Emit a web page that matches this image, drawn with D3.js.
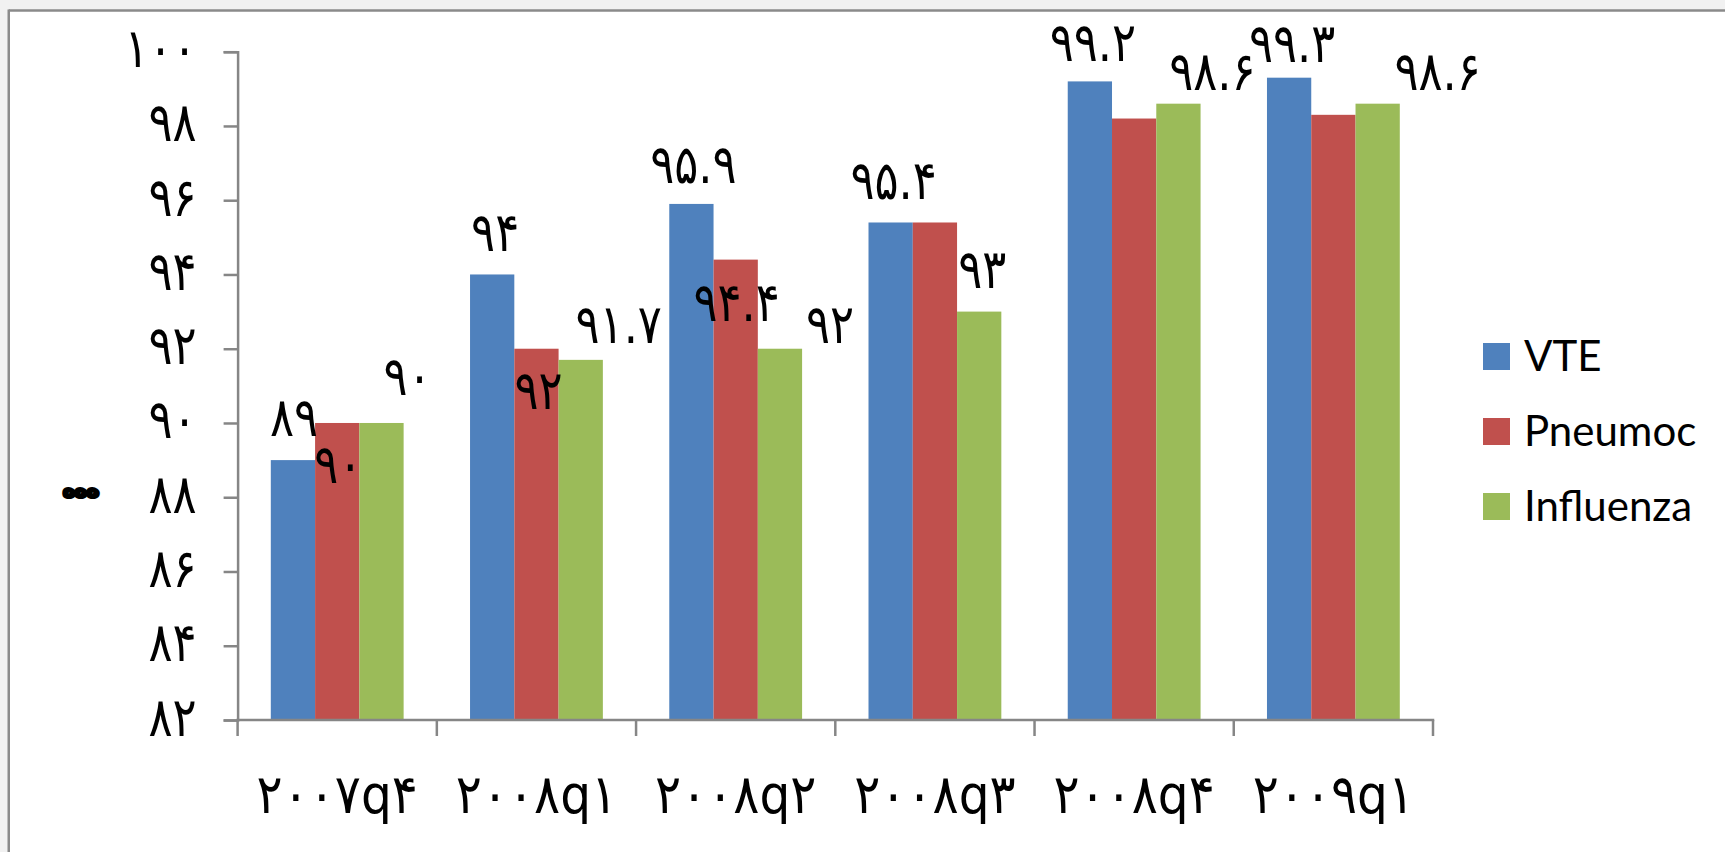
<!DOCTYPE html>
<html>
<head>
<meta charset="utf-8">
<script src="https://cdn.jsdelivr.net/npm/d3@7"></script>
<style>
  html, body { margin: 0; padding: 0; background: #f1f1f1; }
  svg { display: block; }
  .num { font-family: "DejaVu Sans", sans-serif; direction: ltr; }
  .legend text { font-family: Lato, "Open Sans", sans-serif; }
</style>
</head>
<body>
<svg id="chart" width="1725" height="852"></svg>
<script>
// Quarterly compliance rates (%) for three quality measures
const categories = ["۲۰۰۷q۴", "۲۰۰۸q۱", "۲۰۰۸q۲", "۲۰۰۸q۳", "۲۰۰۸q۴", "۲۰۰۹q۱"];
const seriesNames = ["VTE", "Pneumoc", "Influenza"];
const vte       = [89, 94, 95.9, 95.4, 99.2, 99.3];
const pneumoc   = [90, 92, 94.4, 95.4, 98.2, 98.3];
const influenza = [90, 91.7, 92, 93, 98.6, 98.6];
const yTicks = [82, 84, 86, 88, 90, 92, 94, 96, 98, 100];

const colors = ["#4F81BD", "#C0504D", "#9BBB59"];
const numFont = 54;
const numSx = 0.83;   // horizontal squeeze for the Persian-digit numbers
const catSx = 0.9;    // horizontal squeeze for the category labels

// Data-label placement relative to each bar's centre/top (null = no label shown)
const labelNudge = [
  [[1, -24], [3, -23], [2, -21], [3, -23], [3, -20], [3, -16]],
  [[1, 60], [2, 60], [1, 61], null, null, null],
  [[26, -28], [38, -17], [50, -6], [3, -24], [34, -14], [60, -14]]
];

const seriesValues = [vte, pneumoc, influenza];
const fa = s => String(s).replace(/\d/g, d => "۰۱۲۳۴۵۶۷۸۹"[+d]);

const svg = d3.select("#chart");

// chart area: white panel with grey frame on top and left
svg.append("rect").attr("x", 9).attr("y", 10.5).attr("width", 1730).attr("height", 850).attr("fill", "#fff");
svg.append("line").attr("x1", 8.75).attr("x2", 1725).attr("y1", 10.5).attr("y2", 10.5)
  .attr("stroke", "#8a8a8a").attr("stroke-width", 2.5);
svg.append("line").attr("x1", 8.75).attr("x2", 8.75).attr("y1", 9.5).attr("y2", 852)
  .attr("stroke", "#8a8a8a").attr("stroke-width", 2.5);

const plot = { left: 237.6, right: 1433, top: 51.7, bottom: 720 };

const x0 = d3.scaleBand().domain(categories).range([plot.left, plot.right]).paddingInner(0).paddingOuter(0);
const x1 = d3.scaleBand().domain(d3.range(seriesNames.length)).range([0, x0.bandwidth()])
  .paddingInner(0).paddingOuter(0.75);
const y = d3.scaleLinear().domain([82, 100]).range([plot.bottom, plot.top]);

// bars
const rows = [];
seriesValues.forEach((vals, s) => vals.forEach((v, i) => rows.push({ s, i, v })));

svg.append("g").selectAll("rect").data(rows).join("rect")
  .attr("x", d => x0(categories[d.i]) + x1(d.s))
  .attr("y", d => y(d.v))
  .attr("width", x1.bandwidth())
  .attr("height", d => y(82) - y(d.v))
  .attr("fill", d => colors[d.s]);

// y axis
const yTickSize = 14, yTickPad = 27;
const yAxis = svg.append("g").attr("transform", `translate(${plot.left},0)`)
  .call(d3.axisLeft(y).tickValues(yTicks).tickSize(yTickSize).tickPadding(yTickPad).tickFormat(fa));
yAxis.select(".domain").attr("stroke", "#868686").attr("stroke-width", 2.5);
yAxis.selectAll(".tick line").attr("stroke", "#868686").attr("stroke-width", 2.5);
yAxis.selectAll(".tick text").attr("class", "num").attr("font-size", numFont).attr("fill", "#000")
  .attr("x", -(yTickSize + yTickPad) / numSx)
  .attr("transform", `scale(${numSx},1)`)
  .attr("dy", "15px");

// x axis: tick marks between categories, labels centred in each band
const xAxis = svg.append("g");
xAxis.append("line").attr("x1", plot.left - 1.25).attr("x2", plot.right + 1.25)
  .attr("y1", plot.bottom).attr("y2", plot.bottom).attr("stroke", "#868686").attr("stroke-width", 2.5);
const xTickPos = categories.map(c => x0(c)).concat([x0.range()[1]]);
xAxis.selectAll("line.tk").data(xTickPos).join("line").attr("class", "tk")
  .attr("x1", d => d).attr("x2", d => d).attr("y1", plot.bottom).attr("y2", plot.bottom + 16)
  .attr("stroke", "#868686").attr("stroke-width", 2.5);
xAxis.selectAll("text").data(categories).join("text")
  .attr("class", "num").attr("font-size", numFont).attr("text-anchor", "middle")
  .attr("transform", d => `translate(${x0(d) + x0.bandwidth() / 2},813) scale(${catSx},1)`)
  .text(d => d);

// data labels
svg.append("g").selectAll("text")
  .data(rows.filter(d => labelNudge[d.s][d.i]))
  .join("text")
  .attr("class", "num").attr("font-size", numFont).attr("text-anchor", "middle")
  .attr("transform", d => {
    const [dx, dy] = labelNudge[d.s][d.i];
    const cx = x0(categories[d.i]) + x1(d.s) + x1.bandwidth() / 2 + dx;
    return `translate(${cx},${y(d.v) + dy}) scale(${numSx},1)`;
  })
  .text(d => fa(d.v));

// y axis title
svg.append("text").attr("class", "num")
  .attr("x", 81).attr("y", 497)
  .attr("text-anchor", "middle")
  .attr("font-size", 20).attr("font-weight", "bold")
  .attr("stroke", "#000").attr("stroke-width", 4).attr("stroke-linejoin", "round")
  .text("ه\u200Cه\u200Cه");

// legend
const legend = svg.append("g").attr("class", "legend");
seriesNames.forEach((name, k) => {
  const g = legend.append("g").attr("transform", `translate(1483,${343 + k * 75})`);
  g.append("rect").attr("width", 27).attr("height", 27).attr("fill", colors[k]);
  g.append("text").attr("x", 41).attr("y", 28).attr("font-size", 42).attr("fill", "#000").text(name);
});
</script>
</body>
</html>
